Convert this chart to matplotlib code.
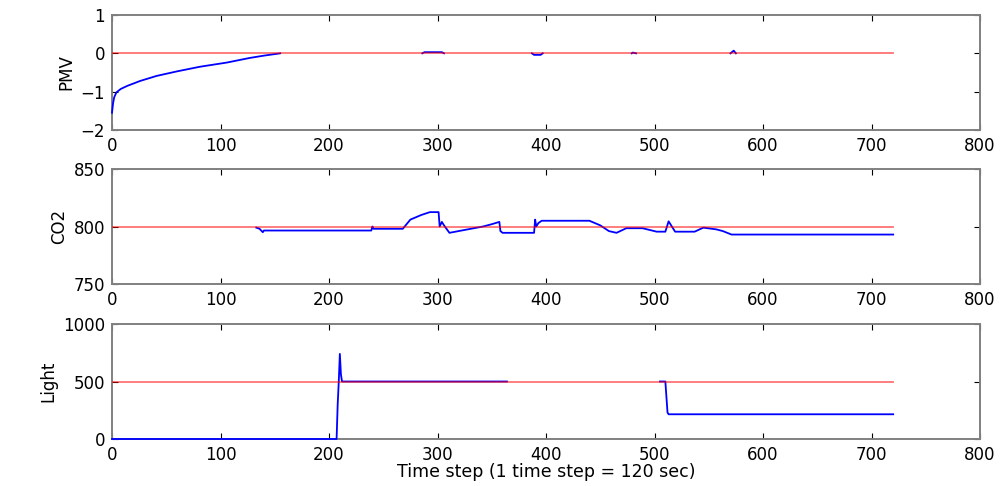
import numpy as np
import matplotlib.pyplot as plt

nan = np.nan

# PMV panel (blue: measured, red: set point)
pmv_t = [0, 1, 2, 4, 8, 14, 26, 41, 60, 81, 106, 127, 140, 150, 155, 156,
         286, 288, 304, 306, 307, 387, 389, 395, 397, 398, 479, 480, 483, 484,
         570, 573, 575, 576]
pmv_v = [-1.55, -1.3, -1.15, -1.02, -0.93, -0.85, -0.72, -0.59, -0.47, -0.35,
         -0.24, -0.12, -0.06, -0.02, 0.0, nan,
         0.0, 0.03, 0.03, 0.0, nan, 0.0, -0.04, -0.04, 0.0, nan,
         0.0, 0.02, 0.0, nan, 0.0, 0.07, 0.0, nan]
pmv_set = 0.0

# CO2 panel
co2_t = [133, 136, 139, 140, 239, 240, 241, 268, 275, 285, 293, 301, 302,
         304, 306, 311, 325, 342, 350, 357, 358, 360, 389, 390, 391, 393, 396,
         440, 450, 458, 465, 474, 489, 502, 510, 513, 519, 537, 545, 557, 563,
         571, 720]
co2_v = [799, 798, 795, 796.5, 796.5, 800, 798, 798, 806, 810, 812.5, 812.5,
         800, 804, 801, 794.5, 797, 800, 802, 804, 796, 794.5, 794.5, 806, 800,
         803, 805, 805, 801, 796, 794.5, 798.5, 798.5, 795.5, 795.5, 804.5,
         795.5, 795.5, 799, 797.5, 796, 793, 793]
co2_set = 800

# Light panel
light_t = [0, 207, 208, 209, 210, 211, 212, 364, 365, 505, 510, 512, 513, 720]
light_v = [0, 0, 300, 500, 740, 560, 500, 500, nan, 500, 500, 230, 215, 215]
light_set = 500

t_end = 720

panels = [
    ("PMV", pmv_t, pmv_v, pmv_set, (-2, 1), [-2, -1, 0, 1]),
    ("CO2", co2_t, co2_v, co2_set, (750, 850), [750, 800, 850]),
    ("Light", light_t, light_v, light_set, (0, 1000), [0, 500, 1000]),
]

plt.rcParams['font.family'] = ['DejaVu Sans']
fig = plt.figure(figsize=(10.06, 4.86), dpi=100)

left, width = 112 / 1006, 868 / 1006
tops = [15, 169, 324]
h = 115

for (name, t, v, sp, ylim, yt), top in zip(panels, tops):
    ax = fig.add_axes([left, 1 - (top + h) / 486, width, h / 486])
    ax.plot(t, v, color='blue', lw=1.3, clip_on=False, zorder=3)
    ax.plot([0, t_end], [sp, sp], color='red', lw=1.3, alpha=0.55, zorder=4)
    ax.set_xlim(0, 800)
    ax.set_ylim(*ylim)
    ax.set_xticks(range(0, 801, 100))
    ax.set_yticks(yt)
    ax.tick_params(direction='in', top=True, right=True, length=4,
                   labelsize=12, color='black', pad=5)
    for s in ax.spines.values():
        s.set_color('#808080')
        s.set_linewidth(1.4)
    ax.set_ylabel(name, fontsize=12, labelpad=4)
    if name == "Light":
        ax.set_xlabel("Time step (1 time step = 120 sec)", fontsize=12.5, labelpad=-1)

fig.savefig("out.png", dpi=100)
